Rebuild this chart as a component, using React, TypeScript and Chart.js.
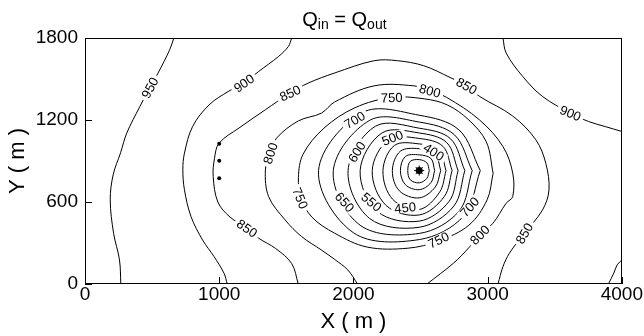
import React, { useEffect, useRef } from 'react';
import { Chart, registerables } from 'chart.js';

Chart.register(...registerables);

type P = [number, number];

// axis ticks
const xTickValues = [0, 1000, 2000, 3000, 4000];
const yTickValues = [0, 600, 1200, 1800];

// contour lines (x, y in metres)
const c300: P[] = [[2565,830],[2547,887],[2490,910],[2423,897],[2405,830],[2423,763],[2490,740],[2547,773],[2565,830]];
const c350: P[] = [[2605,830],[2578,918],[2490,945],[2387,933],[2350,830],[2387,727],[2490,690],[2578,742],[2605,830]];
const c400: P[] = [[2650,830],[2610,950],[2490,990],[2349,971],[2290,830],[2342,682],[2490,630],[2610,710],[2650,830]];
const c450: P[] = [[2690,830],[2638,978],[2490,1025],[2306,1014],[2220,830],[2292,620],[2490,545],[2642,672],[2690,830]];
const c500: P[] = [[2735,830],[2667,1007],[2490,1065],[2264,1056],[2140,830],[2243,575],[2490,505],[2677,640],[2735,830]];
const c550: P[] = [[2780,830],[2695,1035],[2490,1105],[2214,1106],[2050,830],[2180,530],[2490,460],[2713,605],[2780,830]];
const c600: P[] = [[2830,830],[2723,1063],[2490,1140],[2165,1155],[1960,830],[2120,480],[2490,415],[2748,570],[2830,830]];
const c650: P[] = [[2885,830],[2752,1092],[2490,1185],[2122,1198],[1850,830],[2050,430],[2490,370],[2787,533],[2885,830]];
const c700: P[] = [[2945,830],[2787,1127],[2490,1235],[2066,1254],[1740,830],[2000,375],[2490,325],[2822,498],[2945,830]];
const c750: P[] = [[3041,811],[2990,1040],[2860,1200],[2700,1310],[2527,1355],[2285,1365],[2012,1290],[1780,1140],[1625,950],[1590,780],[1610,630],[1690,490],[1861,371],[2103,270],[2406,262],[2633,315],[2860,430],[2996,616],[3041,811]];
const c800: P[] = [[2031,0],[1958,103],[1860,180],[1761,249],[1614,347],[1491,469],[1368,640],[1344,835],[1380,957],[1427,1067],[1589,1193],[1761,1250],[1860,1332],[2155,1450],[2450,1450],[2570,1414],[2695,1365],[2939,1201],[3114,1006],[3187,811],[3187,640],[3138,591],[3040,445],[2941,359],[2867,273],[2745,152],[2548,0]];
const c850: P[] = [[1589,0],[1540,150],[1420,260],[1294,335],[1208,408],[1080,490],[990,600],[955,786],[965,920],[999,1031],[1147,1141],[1344,1275],[1528,1397],[1663,1470],[1860,1544],[2155,1634],[2327,1634],[2524,1597],[2720,1511],[2843,1450],[2941,1372],[3187,1229],[3359,1055],[3433,884],[3457,689],[3409,542],[3273,371],[3162,225],[3114,127],[3077,0]];
const c900a: P[] = [[1540,1800],[1516,1739],[1442,1665],[1294,1555],[1184,1470],[1073,1412],[925,1311],[802,1153],[741,958],[729,835],[741,689],[790,493],[876,322],[962,200],[1036,78],[1060,0]];
const c900b: P[] = [[3114,1800],[3138,1690],[3261,1519],[3409,1372],[3617,1250],[3752,1189],[3876,1152],[4000,1116]];
const c900c: P[] = [[3900,0],[3940,80],[3965,140],[4000,176]];
const c950: P[] = [[662,1800],[631,1714],[544,1543],[483,1436],[409,1299],[311,1104],[265,960],[210,800],[188,615],[213,371],[257,176],[267,0]];

const contourLines: P[][] = [c300, c350, c400, c450, c500, c550, c600, c650, c700, c750, c800, c850, c900a, c900b, c900c, c950];

// wells
const wellX = [1000, 1000, 1000];
const wellY = [1026, 901, 774];
const pumpX = [2490];
const pumpY = [830];

// contour labels: text, x, y, angle (deg)
const labelText = ['950','900','850','800','850','750','750','800','850','700','600','500','400','650','550','450','700','750','800','850','900'];
const labelX = [483,1184,1528,1380,1208,1604,2285,2570,2843,2009,2025,2290,2599,1935,2135,2385,2865,2633,2941,3273,3617];
const labelY = [1436,1470,1397,957,408,628,1365,1414,1450,1201,967,1070,967,600,600,560,564,322,359,371,1250];
const labelAngle = [-62,-35,-25,-72,35,68,-2,15,30,-30,-58,-22,32,48,40,-6,-48,-26,-45,-60,22];

const FONT = "'Liberation Sans', Arial, Helvetica, sans-serif";

const overlayPlugin = {
  id: 'overlay',
  afterDatasetsDraw(chart: any) {
    const { ctx, chartArea: a, scales } = chart;
    const xs = scales.x, ys = scales.y;
    ctx.save();
    // contour labels
    ctx.font = `13px ${FONT}`;
    ctx.textAlign = 'center';
    ctx.textBaseline = 'middle';
    for (let i = 0; i < labelText.length; i++) {
      const px = xs.getPixelForValue(labelX[i]);
      const py = ys.getPixelForValue(labelY[i]);
      const w = ctx.measureText(labelText[i]).width;
      ctx.save();
      ctx.translate(px, py);
      ctx.rotate((labelAngle[i] * Math.PI) / 180);
      ctx.fillStyle = '#fff';
      ctx.fillRect(-w / 2 - 3, -5, w + 6, 10);
      ctx.fillStyle = '#000';
      ctx.fillText(labelText[i], 0, 1);
      ctx.restore();
    }
    // frame
    ctx.strokeStyle = '#000';
    ctx.lineWidth = 1;
    ctx.strokeRect(Math.round(a.left) + 0.5, Math.round(a.top) + 0.5, Math.round(a.right - a.left) - 1, Math.round(a.bottom - a.top) - 1);
    // inward tick marks
    ctx.beginPath();
    xs.ticks.forEach((t: any) => {
      const p = Math.round(xs.getPixelForValue(t.value)) + 0.5;
      ctx.moveTo(p, a.bottom);
      ctx.lineTo(p, a.bottom - 7);
    });
    ys.ticks.forEach((t: any) => {
      const p = Math.round(ys.getPixelForValue(t.value)) + 0.5;
      ctx.moveTo(a.left, p);
      ctx.lineTo(a.left + 7, p);
    });
    ctx.stroke();
    // title Q_in = Q_out
    const cx = (a.left + a.right) / 2 - 9;
    const base = 26;
    const parts: [string, number, number][] = [['Q', 20, 0], ['in', 14, 3], [' = Q', 20, 0], ['out', 14, 3]];
    let total = 0;
    parts.forEach(([s, f]) => { ctx.font = `${f}px ${FONT}`; total += ctx.measureText(s).width; });
    let x0 = cx - total / 2;
    ctx.textAlign = 'left';
    ctx.textBaseline = 'alphabetic';
    ctx.fillStyle = '#000';
    parts.forEach(([s, f, dy]) => {
      ctx.font = `${f}px ${FONT}`;
      ctx.fillText(s, x0, base + dy);
      x0 += ctx.measureText(s).width;
    });
    ctx.restore();
  },
};

export default function App() {
  const ref = useRef<HTMLCanvasElement>(null);
  useEffect(() => {
    document.body.style.margin = '0';
    const canvas = ref.current!;
    const datasets: any[] = contourLines.map((pts) => ({
      data: pts.map(([x, y]) => ({ x, y })),
      showLine: true,
      borderColor: '#000',
      borderWidth: 1,
      pointRadius: 0,
      pointHoverRadius: 0,
      tension: 0.35,
      fill: false,
    }));
    datasets.push({
      data: wellX.map((x, i) => ({ x, y: wellY[i] })),
      showLine: false,
      pointRadius: 2,
      backgroundColor: '#000',
      borderColor: '#000',
      borderWidth: 0,
    });
    datasets.push({
      data: pumpX.map((x, i) => ({ x, y: pumpY[i] })),
      showLine: false,
      pointRadius: 3.5,
      pointStyle: 'circle',
      backgroundColor: '#000',
      borderColor: '#000',
      borderWidth: 0,
    });
    datasets.push({
      data: pumpX.map((x, i) => ({ x, y: pumpY[i] })),
      showLine: false,
      pointRadius: 5,
      pointStyle: 'star',
      backgroundColor: '#000',
      borderColor: '#000',
      borderWidth: 1,
    });
    const tickLabel = (v: any) => String(v);
    const chart = new Chart(canvas, {
      type: 'scatter',
      data: { datasets },
      plugins: [overlayPlugin],
      options: {
        animation: false,
        responsive: false,
        devicePixelRatio: 1,
        events: [],
        layout: { padding: { left: 0, right: 17, top: 38, bottom: 0 } },
        plugins: { legend: { display: false }, tooltip: { enabled: false }, title: { display: false } },
        scales: {
          x: {
            type: 'linear',
            min: 0,
            max: 4000,
            afterBuildTicks: (s: any) => { s.ticks = xTickValues.map((v) => ({ value: v })); },
            afterFit: (s: any) => { s.height = 52; },
            grid: { display: false, drawTicks: false },
            border: { display: false },
            ticks: { color: '#000', padding: 1, maxRotation: 0, autoSkip: false, callback: tickLabel, font: { family: FONT, size: 19, lineHeight: 1 } },
            title: { display: true, text: 'X ( m )', color: '#000', font: { family: FONT, size: 22, lineHeight: 1.2 }, padding: { top: 0, bottom: 1 } },
          },
          y: {
            type: 'linear',
            min: 0,
            max: 1800,
            afterBuildTicks: (s: any) => { s.ticks = yTickValues.map((v) => ({ value: v })); },
            afterFit: (s: any) => { s.width = 85; },
            grid: { display: false, drawTicks: false },
            border: { display: false },
            ticks: { color: '#000', padding: 7, autoSkip: false, callback: tickLabel, font: { family: FONT, size: 19, lineHeight: 1 } },
            title: { display: true, text: 'Y ( m )', color: '#000', font: { family: FONT, size: 22, lineHeight: 1.2 }, padding: { top: 5, bottom: 0 } },
          },
        },
      },
    } as any);
    return () => chart.destroy();
  }, []);
  return (
    <div style={{ width: 644, height: 336, background: '#fff' }}>
      <canvas ref={ref} width={644} height={336} style={{ display: 'block', width: 644, height: 336 }} />
    </div>
  );
}
